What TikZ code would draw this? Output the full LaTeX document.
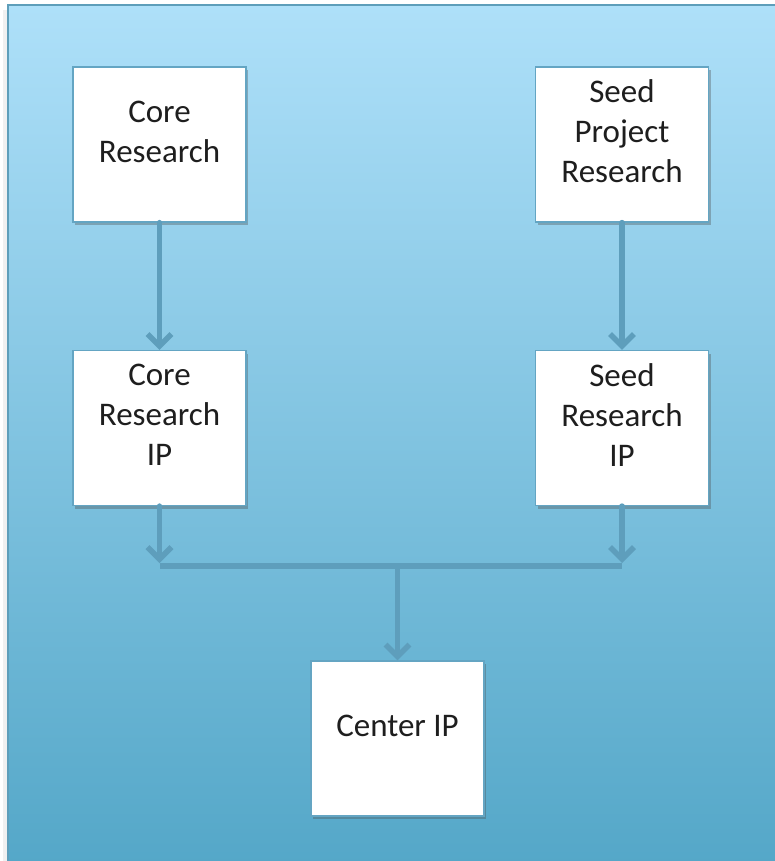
\documentclass[tikz,border=0pt]{standalone}
\usepackage{fontspec}
\setmainfont{Carlito}
\usetikzlibrary{arrows.meta,shadows}
\definecolor{bgtop}{RGB}{174,224,249}
\definecolor{bgbot}{RGB}{84,167,200}
\definecolor{frame}{RGB}{94,158,186}
\definecolor{conn}{RGB}{94,158,188}
\definecolor{boxline}{RGB}{100,165,195}
\definecolor{txt}{RGB}{30,30,30}
\tikzset{
  card/.style={draw=boxline, line width=1.2pt, fill=white, minimum width=173pt, minimum height=155pt, inner sep=0pt,
    drop shadow={shadow xshift=2pt, shadow yshift=-3pt, opacity=0.35, fill=black!70}},
  cardtext/.style={align=center, font=\fontsize{33}{40}\selectfont, text=txt, yshift=13pt},
  link/.style={draw=conn, line width=5.5pt, -{Straight Barb[length=12pt,width=24pt,line width=5.5pt]}, line cap=round},
  bar/.style={draw=conn, line width=6pt}
}
\begin{document}
\begin{tikzpicture}[x=1pt,y=-1pt]
\useasboundingbox (0,0) rectangle (775,861);
% faint left shadow of the panel
\fill[black, opacity=0.06] (3,10) rectangle (8,861);
\shade[top color=bgtop, bottom color=bgbot] (8,5) rectangle (780,866);
\draw[frame, line width=1.6pt] (8,866) -- (8,5) -- (780,5);
% boxes
\node[card, label={[cardtext]center:Core\\Research}] (core) at (159.5,144.5) {};
\node[card, label={[cardtext]center:Seed\\Project\\Research}] (seed) at (622,144.5) {};
\node[card, label={[cardtext]center:Core\\Research\\IP}] (coreip) at (159.5,428) {};
\node[card, label={[cardtext]center:Seed\\Research\\IP}] (seedip) at (622,428) {};
\node[card, label={[cardtext]center:Center IP}] (center) at (397.5,738.5) {};
% junction bar
\coordinate (barl) at (159.5,566);
\coordinate (barr) at (622,566);
\coordinate (barm) at (397.5,566);
\draw[bar] (barl) -- (barr);
% connectors
\draw[link] (core) -- (coreip);
\draw[link] (seed) -- (seedip);
\draw[link, shorten >=3pt] (coreip) -- (barl);
\draw[link, shorten >=3pt] (seedip) -- (barr);
\draw[link] (barm) -- (center);
\end{tikzpicture}
\end{document}
